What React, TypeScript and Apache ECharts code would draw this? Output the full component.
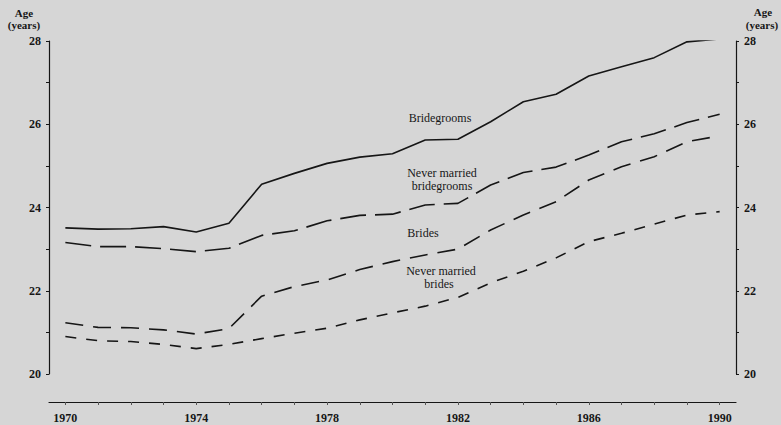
import React, { useEffect, useRef } from "react";
import * as echarts from "echarts";

const years = [
  "1970", "1971", "1972", "1973", "1974", "1975", "1976", "1977", "1978", "1979", "1980",
  "1981", "1982", "1983", "1984", "1985", "1986", "1987", "1988", "1989", "1990",
];

const bridegrooms = [
  23.51, 23.48, 23.49, 23.54, 23.41, 23.62, 24.56, 24.82, 25.06, 25.21, 25.29,
  25.62, 25.64, 26.06, 26.54, 26.72, 27.16, 27.38, 27.6, 27.98, 28.05,
];

const neverMarriedBridegrooms = [
  23.16, 23.06, 23.06, 23.01, 22.94, 23.02, 23.33, 23.44, 23.68, 23.81, 23.84,
  24.06, 24.1, 24.54, 24.84, 24.97, 25.26, 25.58, 25.77, 26.04, 26.24,
];

const brides = [
  21.23, 21.12, 21.11, 21.06, 20.96, 21.09, 21.87, 22.1, 22.26, 22.51, 22.7,
  22.86, 23.0, 23.46, 23.82, 24.14, 24.66, 24.98, 25.22, 25.58, 25.72,
];

const neverMarriedBrides = [
  20.9, 20.8, 20.78, 20.71, 20.61, 20.71, 20.85, 20.98, 21.1, 21.3, 21.47,
  21.63, 21.84, 22.19, 22.47, 22.79, 23.18, 23.38, 23.6, 23.82, 23.9,
];

const yMin = 20;
const yMax = 28;

const labelLines = [
  { text: "Bridegrooms", x: 440, y: 118 },
  { text: "Never married", x: 442, y: 173 },
  { text: "bridegrooms", x: 442, y: 186 },
  { text: "Brides", x: 423, y: 233 },
  { text: "Never married", x: 441, y: 271 },
  { text: "brides", x: 439, y: 284 },
];

const axisNameLines = [
  { text: "Age", x: 24, y: 13 },
  { text: "(years)", x: 24, y: 25 },
  { text: "Age", x: 763, y: 12 },
  { text: "(years)", x: 762, y: 25 },
];

const FONT = "'Liberation Serif', 'DejaVu Serif', serif";
const INK = "#161616";

export default function App() {
  const ref = useRef<HTMLDivElement>(null);

  useEffect(() => {
    document.body.style.margin = "0";
    const chart = echarts.init(ref.current!, null, { renderer: "svg" });

    const yAxisCommon = {
      type: "value" as const,
      min: yMin,
      max: yMax,
      interval: 1,
      splitLine: { show: false },
      axisLine: { show: true, lineStyle: { color: INK, width: 1.2 } },
      axisTick: { show: true, length: 3, lineStyle: { color: INK, width: 1 } },
      axisLabel: {
        color: INK,
        fontFamily: FONT,
        fontSize: 12,
        fontWeight: "bold" as const,
        margin: 8,
        formatter: (v: number) => (v % 2 === 0 ? String(v) : ""),
      },
    };

    const lineSeries = (name: string, data: number[], dash: number[] | "solid") => ({
      name,
      type: "line" as const,
      data,
      symbol: "none",
      lineStyle: { color: INK, width: 1.6, type: dash },
    });

    chart.setOption({
      animation: false,
      backgroundColor: "#d6d6d6",
      grid: { left: 49, right: 45, top: 41, bottom: 51 },
      xAxis: {
        type: "category",
        data: years,
        boundaryGap: true,
        offset: 28,
        axisLine: { show: true, lineStyle: { color: INK, width: 1.2 } },
        axisTick: { show: true, alignWithLabel: true, interval: 0, length: 3, lineStyle: { color: "#555", width: 1 } },
        axisLabel: {
          interval: 3,
          color: INK,
          fontFamily: FONT,
          fontSize: 12,
          fontWeight: "bold",
          margin: 10,
        },
        splitLine: { show: false },
      },
      yAxis: [
        { ...yAxisCommon, position: "left" },
        { ...yAxisCommon, position: "right" },
      ],
      series: [
        lineSeries("Bridegrooms", bridegrooms, "solid"),
        lineSeries("Never married bridegrooms", neverMarriedBridegrooms, [26, 9]),
        lineSeries("Brides", brides, [18, 10]),
        lineSeries("Never married brides", neverMarriedBrides, [11, 10]),
      ],
      graphic: [
        ...labelLines.map((l) => ({
          type: "text",
          x: l.x,
          y: l.y,
          style: {
            text: l.text,
            fill: INK,
            font: `12px ${FONT}`,
            align: "center",
            verticalAlign: "middle",
          },
        })),
        ...axisNameLines.map((l) => ({
          type: "text",
          x: l.x,
          y: l.y,
          style: {
            text: l.text,
            fill: INK,
            font: `bold 11px ${FONT}`,
            align: "center",
            verticalAlign: "middle",
          },
        })),
      ],
    });

    return () => chart.dispose();
  }, []);

  return (
    <div
      ref={ref}
      style={{ position: "fixed", left: 0, top: 0, width: 781, height: 425 }}
    />
  );
}
